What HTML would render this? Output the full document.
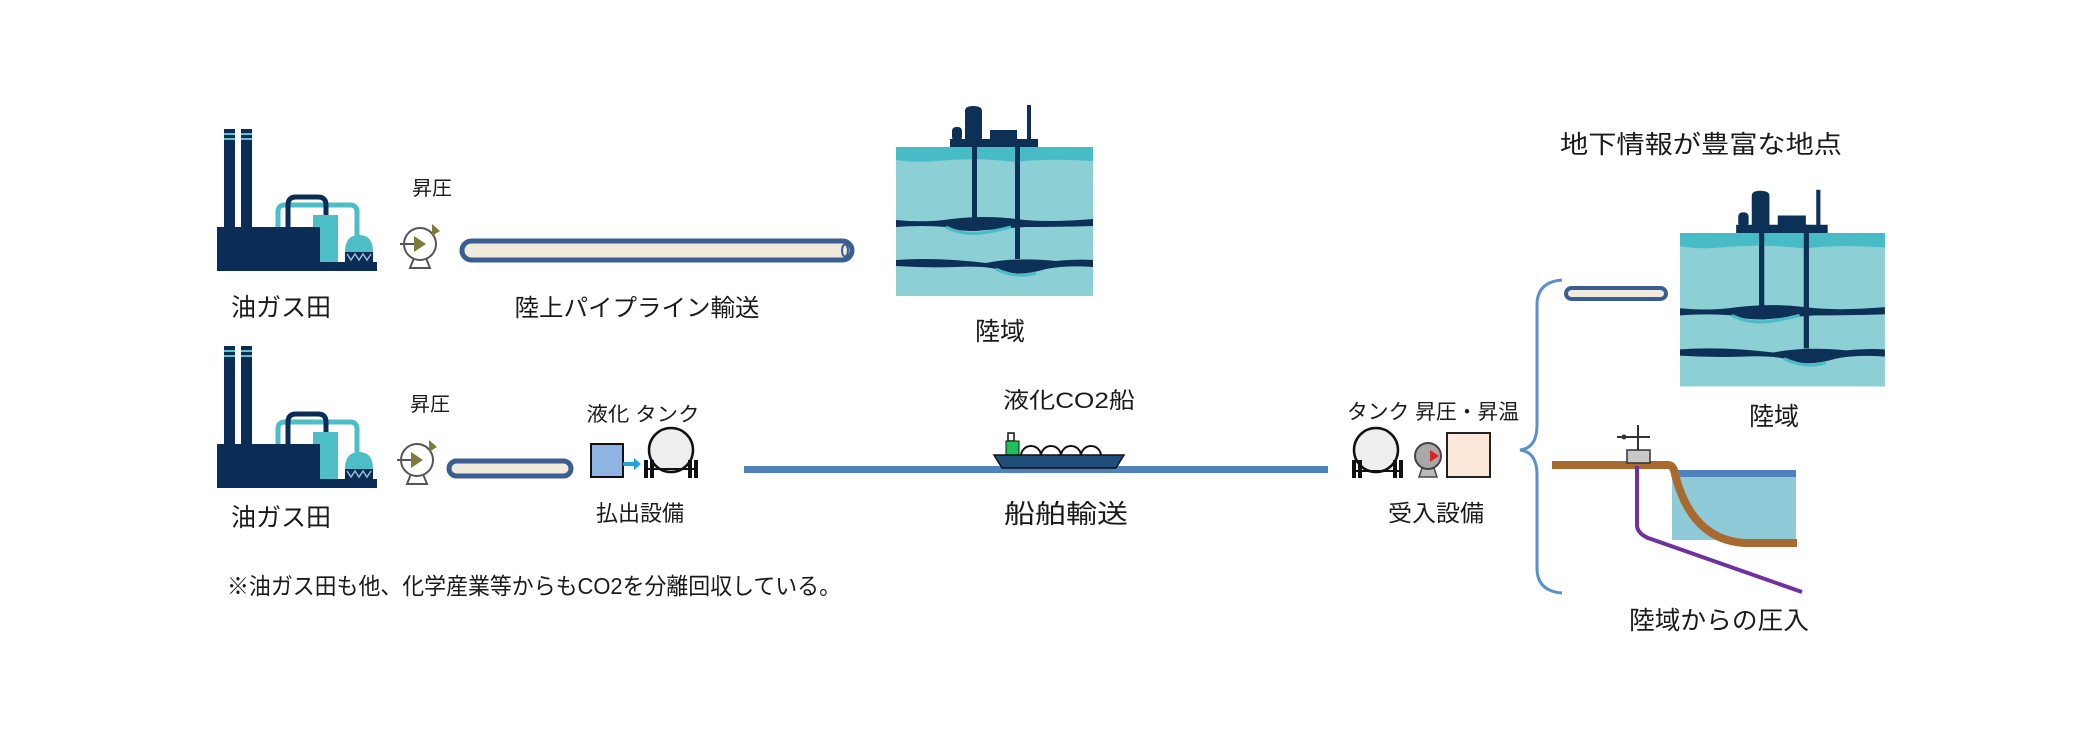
<!DOCTYPE html>
<html><head><meta charset="utf-8"><style>
html,body{margin:0;padding:0;background:#fff;}
svg{display:block;}
text{font-family:"Liberation Sans","Noto Sans CJK JP",sans-serif;fill:#1a1a1a;}
</style></head><body>
<svg width="2080" height="750" viewBox="0 0 2080 750" xmlns="http://www.w3.org/2000/svg">
<defs>
<g id="factory">
  <rect x="224" y="129" width="11" height="110" fill="#0b2d55"/>
  <rect x="241" y="129" width="11" height="110" fill="#0b2d55"/>
  <rect x="224" y="133" width="11" height="2" fill="#5fc3cc"/>
  <rect x="224" y="138" width="11" height="2" fill="#5fc3cc"/>
  <rect x="241" y="133" width="11" height="2" fill="#5fc3cc"/>
  <rect x="241" y="138" width="11" height="2" fill="#5fc3cc"/>
  <path d="M278 230 V212 Q278 205 285 205 H350 Q357 205 357 212 V238" fill="none" stroke="#4dbdc6" stroke-width="5"/>
  <path d="M288 230 V205 Q288 197 296 197 H318 Q326 197 326 205 V216" fill="none" stroke="#0b2d55" stroke-width="5"/>
  <rect x="313" y="215" width="25" height="50" fill="#4dbdc6"/>
  <rect x="217" y="227" width="103" height="40" fill="#0b2d55"/>
  <path d="M345 252 Q345 235 359 235 Q373 235 373 252 Z" fill="#4dbdc6"/>
  <rect x="345" y="252" width="28" height="10" fill="#0b2d55"/>
  <path d="M347 254 l4 6 l4 -6 l4 6 l4 -6 l4 6 l4 -6" fill="none" stroke="#9bd" stroke-width="1.5"/>
  <rect x="217" y="262" width="160" height="9" fill="#0b2d55"/>
</g>
<g id="pump">
  <path d="M410 268 L414 258 H426 L430 268 Z" fill="#fff" stroke="#555" stroke-width="2"/>
  <circle cx="420" cy="244" r="16" fill="#fff" stroke="#555" stroke-width="2"/>
  <line x1="400" y1="244" x2="420" y2="244" stroke="#555" stroke-width="2"/>
  <path d="M414 236 L426 244 L414 252 Z" fill="#7b7b3d"/>
  <path d="M432 224 L440 231 L432 236 Z" fill="#7b7b3d"/>
</g>
<g id="res">
  <rect x="0" y="0" width="197" height="149" fill="#8ccfd5"/>
  <path d="M0 0 H197 V14 Q150 11 120 15 Q80 10 40 14 Q20 16 0 13 Z" fill="#48bcc6"/>
  <path d="M0 73 Q30 76 55 72 Q90 68 120 72 Q150 76 197 72 L197 79 Q160 80 130 80 Q100 82 80 84 Q60 84 50 80 Q25 78 0 80 Z" fill="#0d3057"/>
  <path d="M50 80 Q65 88 85 86 Q100 84 115 80" fill="none" stroke="#4bbcc6" stroke-width="3"/>
  <path d="M0 113 Q40 110 90 116 Q120 110 160 114 Q180 112 197 113 L197 120 Q170 118 150 122 Q130 128 115 126 Q95 118 60 120 Q30 121 0 119 Z" fill="#0d3057"/>
  <path d="M100 122 Q120 132 140 126" fill="none" stroke="#4bbcc6" stroke-width="3"/>
  <rect x="76" y="-8" width="5" height="80" fill="#0d3057"/>
  <rect x="119" y="-8" width="5" height="120" fill="#0d3057"/>
  <rect x="54" y="-8" width="88" height="8" fill="#0d3057"/>
  <rect x="56" y="-20" width="10" height="14" rx="4" fill="#0d3057"/>
  <path d="M69 -4 V-36 Q69 -41 77 -41 Q86 -41 86 -36 V-4 Z" fill="#0d3057"/>
  <rect x="94" y="-17" width="27" height="12" fill="#0d3057"/>
  <rect x="131" y="-42" width="4" height="36" fill="#0d3057"/>
</g>
</defs>

<!-- Row 1 -->
<use href="#factory"/>
<use href="#pump"/>
<text x="432" y="195" font-size="20" text-anchor="middle">昇圧</text>
<rect x="462" y="241" width="390" height="19" rx="9.5" fill="#efeadb" stroke="#3a5e91" stroke-width="5"/>
<ellipse cx="845" cy="250.5" rx="3" ry="6" fill="none" stroke="#3a5e91" stroke-width="2"/>
<text x="281" y="316" font-size="25" text-anchor="middle">油ガス田</text>
<text x="637" y="316" font-size="24" text-anchor="middle" textLength="245" lengthAdjust="spacingAndGlyphs">陸上パイプライン輸送</text>
<use href="#res" transform="translate(896,147)"/>
<text x="1000" y="340" font-size="25" text-anchor="middle">陸域</text>

<!-- Row 2 -->
<use href="#factory" transform="translate(0,217)"/>
<use href="#pump" transform="translate(-3,216)"/>
<text x="430" y="411" font-size="20" text-anchor="middle">昇圧</text>
<rect x="449" y="461" width="122" height="15" rx="7.5" fill="#efeadb" stroke="#3a5e91" stroke-width="5"/>
<text x="643" y="421" font-size="20" text-anchor="middle" textLength="113" lengthAdjust="spacingAndGlyphs">液化 タンク</text>
<rect x="591" y="444" width="32" height="33" fill="#8eb4e3" stroke="#111" stroke-width="2"/>
<path d="M623 462 H634 V458 L641 464 L634 470 V466 H623 Z" fill="#1fa3dc"/>
<circle cx="671" cy="450" r="22" fill="#eee" stroke="#111" stroke-width="2.5"/>
<rect x="644" y="460" width="4" height="18" fill="#111"/><rect x="650" y="460" width="4" height="18" fill="#111"/>
<rect x="688" y="460" width="4" height="18" fill="#111"/><rect x="694" y="460" width="4" height="18" fill="#111"/>
<line x1="648" y1="469" x2="694" y2="469" stroke="#111" stroke-width="2"/>
<text x="640" y="521" font-size="22" text-anchor="middle">払出設備</text>
<text x="281" y="526" font-size="25" text-anchor="middle">油ガス田</text>

<!-- Ship -->
<rect x="744" y="466" width="584" height="7" fill="#4f81bd"/>
<text x="1069" y="408" font-size="22" text-anchor="middle" textLength="132" lengthAdjust="spacingAndGlyphs">液化CO2船</text>
<rect x="1008" y="433" width="6" height="8" fill="#fff" stroke="#111" stroke-width="1.5"/>
<rect x="1006" y="441" width="13" height="15" fill="#1ec05a" stroke="#111" stroke-width="1"/>
<path d="M1021 456 a10 10 0 0 1 20 0 a10 10 0 0 1 20 0 a10 10 0 0 1 20 0 a10 10 0 0 1 20 0" fill="#fff" stroke="#111" stroke-width="2"/>
<path d="M994 455 H1124 L1116 468 H1002 Z" fill="#1f4e79" stroke="#111" stroke-width="1.5"/>
<text x="1066" y="523" font-size="26" text-anchor="middle" textLength="124" lengthAdjust="spacingAndGlyphs">船舶輸送</text>

<!-- Receiving -->
<text x="1433" y="419" font-size="21" text-anchor="middle" textLength="172" lengthAdjust="spacingAndGlyphs">タンク 昇圧・昇温</text>
<circle cx="1376" cy="450" r="22" fill="#eee" stroke="#111" stroke-width="2.5"/>
<rect x="1352" y="460" width="4" height="18" fill="#111"/><rect x="1358" y="460" width="4" height="18" fill="#111"/>
<rect x="1393" y="460" width="4" height="18" fill="#111"/><rect x="1399" y="460" width="4" height="18" fill="#111"/>
<line x1="1356" y1="471" x2="1399" y2="471" stroke="#111" stroke-width="2"/>
<path d="M1419 477 L1422 468 H1434 L1437 477 Z" fill="#bbb" stroke="#444" stroke-width="1.5"/>
<circle cx="1428" cy="456" r="13" fill="#a8a8a8" stroke="#444" stroke-width="2"/>
<path d="M1430 450 L1439 456 L1430 462 Z" fill="#d22"/>
<rect x="1447" y="433" width="43" height="44" fill="#fde9d9" stroke="#222" stroke-width="2"/>
<text x="1436" y="521" font-size="23" text-anchor="middle" textLength="96" lengthAdjust="spacingAndGlyphs">受入設備</text>

<!-- Right side -->
<text x="1701" y="153" font-size="25" text-anchor="middle" textLength="282" lengthAdjust="spacingAndGlyphs">地下情報が豊富な地点</text>
<path d="M1562 280 Q1537 282 1537 305 V425 Q1537 448 1520 450 Q1537 452 1537 475 V568 Q1537 591 1562 593" fill="none" stroke="#5b8fd0" stroke-width="3"/>
<rect x="1566" y="288" width="100" height="11" rx="5.5" fill="#efeadb" stroke="#3a5e91" stroke-width="4"/>
<use href="#res" transform="translate(1680,233) scale(1.04,1.03)"/>
<text x="1774" y="425" font-size="25" text-anchor="middle">陸域</text>

<rect x="1672" y="472" width="124" height="68" fill="#8fcad9"/>
<rect x="1672" y="470" width="124" height="7" fill="#4f81bd"/>
<path d="M1552 465 H1668 Q1672 465 1674 470 Q1690 540 1745 543 H1797" fill="none" stroke="#a86a2e" stroke-width="8"/>
<path d="M1637 466 V525 Q1637 533 1648 538 L1802 592" fill="none" stroke="#7030a0" stroke-width="4"/>
<rect x="1627" y="450" width="23" height="13" fill="#c8c8c8" stroke="#333" stroke-width="1.5"/>
<line x1="1638" y1="425" x2="1638" y2="450" stroke="#333" stroke-width="2"/>
<line x1="1617" y1="437" x2="1650" y2="437" stroke="#333" stroke-width="2"/>
<circle cx="1624" cy="437" r="2.5" fill="#333"/>
<text x="1719" y="629" font-size="25" text-anchor="middle" textLength="180" lengthAdjust="spacingAndGlyphs">陸域からの圧入</text>

<text x="227" y="594" font-size="23" textLength="614" lengthAdjust="spacingAndGlyphs">※油ガス田も他、化学産業等からもCO2を分離回収している。</text>
</svg>
</body></html>
